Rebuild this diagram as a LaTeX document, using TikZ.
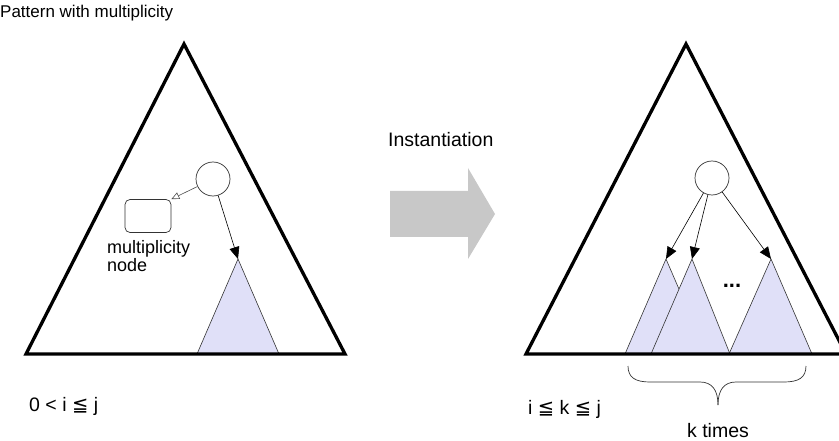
\documentclass[tikz,border=0pt]{standalone}
\usepackage{fontspec}
\setmainfont{Liberation Sans}
\newfontfamily\symf{DejaVu Sans}
\usetikzlibrary{arrows.meta}
\definecolor{lav}{RGB}{224,224,248}
\definecolor{arrowgray}{RGB}{200,200,200}
\tikzset{
  bigtri/.style={line width=3.3pt, line join=miter},
  smalltri/.style={fill=lav, draw=black!80, line width=0.6pt},
  circ/.style={circle, draw=black!80, line width=0.7pt, minimum size=34pt, inner sep=0pt},
  mrect/.style={rectangle, rounded corners=5pt, draw=black!80, line width=0.7pt, minimum width=46pt, minimum height=33pt, inner sep=0pt},
  solidarr/.style={-{Triangle[length=12pt,width=10pt]}, line width=0.6pt},
  openarr/.style={-{Triangle[open,length=8pt,width=7pt]}, line width=0.6pt, draw=black!70},
  lbl/.style={anchor=base west, inner sep=0pt},
}
\newcommand{\myleqq}{{\symf ≦}}
\begin{document}
\begin{tikzpicture}[x=1pt,y=-1pt]
\useasboundingbox (0,0) rectangle (839,441);
% titles
\node[lbl, font=\fontsize{17}{19}\selectfont] (title) at (0,18) {Pattern with multiplicity};
\node[lbl, font=\fontsize{19.5}{21}\selectfont] (inst) at (388,147) {Instantiation};
% gray arrow
\fill[arrowgray] (390,191) -- (468,191) -- (468,168) -- (495,214) -- (468,259) -- (468,237) -- (390,237) -- cycle;
% left pattern
\coordinate (L1) at (26,354);
\coordinate (L2) at (345,354);
\coordinate (L3) at (184,44);
\coordinate (la) at (238,259);
\filldraw[smalltri] (197,354) -- (la) -- (279,354) -- cycle;
\draw[bigtri] (L1) -- (L2) -- (L3) -- cycle;
\node[circ] (lc) at (213,179) {};
\node[mrect] (mr) at (148,216) {};
\draw[openarr] (lc) -- (mr.north east);
\draw[solidarr] (lc) -- (la);
\node[lbl, font=\fontsize{18}{20}\selectfont] (mt) at (107,254) {multiplicity};
\node[lbl, font=\fontsize{18}{20}\selectfont] (nt) at (107,271) {node};
\node[lbl, font=\fontsize{19.5}{21}\selectfont] (cond1) at (29,411) {0 < i \myleqq{} j};
% right instantiated
\coordinate (ra1) at (666,259);
\coordinate (ra2) at (692,259);
\coordinate (ra3) at (771,259);
\filldraw[smalltri] (625,354) -- (ra1) -- (707,354) -- cycle;
\filldraw[smalltri] (651,354) -- (ra2) -- (730,354) -- cycle;
\filldraw[smalltri] (729,354) -- (ra3) -- (812,354) -- cycle;
\begin{scope}
\clip (0,0) rectangle (839,441);
\draw[bigtri] (526,354) -- (846,354) -- (686,44) -- cycle;
\end{scope}
\node[circ] (rc) at (712,178) {};
\draw[solidarr] (rc) -- (ra1);
\draw[solidarr] (rc) -- (ra2);
\draw[solidarr] (rc) -- (ra3);
\node[font=\fontsize{22}{24}\selectfont\bfseries] (dots) at (732,286) {...};
% brace
\coordinate (bt) at (718,405);
\draw[line width=0.7pt, black!80] (628,366) .. controls (628,378) and (636,382) .. (650,382) -- (700,382) .. controls (712,382) and (718,390) .. (bt);
\draw[line width=0.7pt, black!80] (806,366) .. controls (806,378) and (798,382) .. (784,382) -- (736,382) .. controls (724,382) and (718,390) .. (bt);
\node[anchor=base, inner sep=0pt, font=\fontsize{19.5}{21}\selectfont] (kt) at (718,437) {k times};
\node[lbl, font=\fontsize{19.5}{21}\selectfont] (cond2) at (528,414) {i \myleqq{} k \myleqq{} j};
\end{tikzpicture}
\end{document}
